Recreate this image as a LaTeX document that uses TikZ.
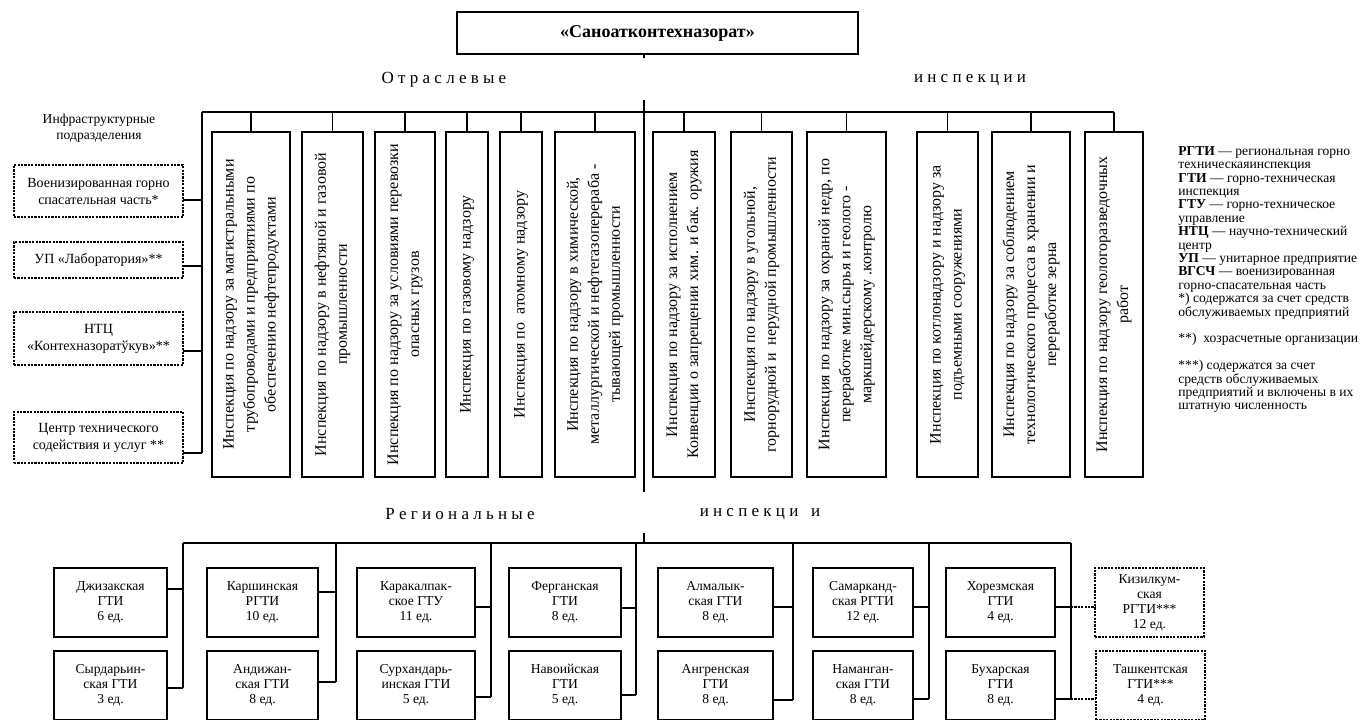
\documentclass[tikz,border=0pt]{standalone}
\usepackage{fontspec}
\setmainfont{Liberation Serif}
\begin{document}
\begin{tikzpicture}[x=0.5pt,y=-0.5pt,
    box/.style={draw,line width=0.9pt,inner sep=0pt,outer sep=0pt,align=center},
    vbox/.style={box,rotate=90,minimum width=172.5pt,font=\fontsize{8}{10.5}\selectfont},
    rbox/.style={box,minimum height=34.5pt,font=\fontsize{6.8}{7.5}\selectfont},
    dotbox/.style={draw,line width=1.4pt,dash pattern=on 1.1pt off 0.6pt,inner sep=0pt,outer sep=0pt,align=center},
    ibox/.style={dotbox,minimum width=84.5pt,font=\fontsize{7}{8.5}\selectfont},
    kbox/.style={dotbox,minimum width=54.5pt,minimum height=34.5pt,font=\fontsize{6.8}{7.5}\selectfont},
    link/.style={line width=0.8pt},
    dotlink/.style={line width=1.4pt,dash pattern=on 1.1pt off 0.6pt},
    lbl/.style={font=\fontsize{8.5}{10}\selectfont,inner sep=0pt}]
    \useasboundingbox (0,0) rectangle (1361,719);

    \node[box,minimum width=200.5pt,minimum height=21pt,font=\bfseries\fontsize{9}{11}\selectfont] (title) at (657.5,33) {«Саноатконтехназорат»};

    \node[lbl] (otrasl) at (444,80) {О т р а с л е в ы е};
    \node[lbl] (insp) at (970,80) {и н с п е к ц и и};
    \node[lbl] (region) at (460,514) {Р е г и о н а л ь н ы е};
    \node[lbl] (insp2) at (760,514) {и н с п е к ц и \ \ и};

    \node[vbox,minimum height=39pt] (pipe) at (251,304.5) {Инспекция по надзору за магистральными\\трубопроводами и предприятиями по\\обеспечению нефтепродуктами};
    \node[vbox,minimum height=30.5pt] (oilgas) at (332.5,304.5) {Инспекция по надзору в нефтяной и газовой\\промышленности};
    \node[vbox,minimum height=30pt] (cargo) at (405,304.5) {Инспекция по надзору за условиями перевозки\\опасных грузов};
    \node[vbox,minimum height=21pt] (gas) at (467,304.5) {Инспекция по газовому надзору};
    \node[vbox,minimum height=21pt] (atom) at (521,304.5) {Инспекция по\ \ атомному надзору};
    \node[vbox,minimum height=40pt] (chem) at (595,304.5) {Инспекция по надзору в химической,\\металлургической и нефтегазоперераба -\\тывающей промышленности};
    \node[vbox,minimum height=31pt] (weapon) at (684,304.5) {Инспекция по надзору за исполнением\\Конвенции о запрещении хим. и бак. оружия};
    \node[vbox,minimum height=30.5pt] (coal) at (761.5,304.5) {Инспекция по надзору в угольной,\\горнорудной и\ \ нерудной промышленности};
    \node[vbox,minimum height=39.5pt] (nedra) at (846.5,304.5) {Инспекция по надзору за охраной недр, по\\переработке мин.сырья и геолого -\\маркшейдерскому .контролю};
    \node[vbox,minimum height=30.5pt] (boiler) at (947.5,304.5) {Инспекция по котлонадзору и надзору за\\подъемными сооружениями};
    \node[vbox,minimum height=39pt] (grain) at (1031,304.5) {Инспекция по надзору за соблюдением\\технологического процесса в хранении и\\переработке зерна};
    \node[vbox,minimum height=29pt] (geo) at (1114,304.5) {Инспекция по надзору геологоразведочных\\работ};

    \node[font=\fontsize{6.8}{8}\selectfont,align=center,inner sep=0pt] (infra) at (99,128) {Инфраструктурные\\подразделения};
    \node[ibox,minimum height=26pt] (vgsch) at (98.5,191) {Военизированная горно\\спасательная часть*};
    \node[ibox,minimum height=18pt] (lab) at (98.5,260) {УП «Лаборатория»**};
    \node[ibox,minimum height=26.5pt] (ntc) at (98.5,338.5) {НТЦ\\«Контехназоратўкув»**};
    \node[ibox,minimum height=25.5pt] (center) at (98.5,437.5) {Центр технического\\содействия и услуг **};

    \node[rbox,minimum width=56.5pt] (jizzakh) at (110.5,602.5) {Джизакская\\ГТИ\\6 ед.};
    \node[rbox,minimum width=55.5pt] (karshi) at (262.5,602.5) {Каршинская\\РГТИ\\10 ед.};
    \node[rbox,minimum width=59pt] (karakalpak) at (416,602.5) {Каракалпак-\\ское ГТУ\\11 ед.};
    \node[rbox,minimum width=56pt] (fergana) at (565,602.5) {Ферганская\\ГТИ\\8 ед.};
    \node[rbox,minimum width=57.5pt] (almalyk) at (715.5,602.5) {Алмалык-\\ская ГТИ\\8 ед.};
    \node[rbox,minimum width=50pt] (samarkand) at (863,602.5) {Самарканд-\\ская РГТИ\\12 ед.};
    \node[rbox,minimum width=54.5pt] (khorezm) at (1000.5,602.5) {Хорезмская\\ГТИ\\4 ед.};
    \node[kbox] (kyzylkum) at (1149.5,602.5) {Кизилкум-\\ская\\РГТИ***\\12 ед.};

    \node[rbox,minimum width=56.5pt] (syrdarya) at (110.5,685.5) {Сырдарьин-\\ская ГТИ\\3 ед.};
    \node[rbox,minimum width=55.5pt] (andijan) at (262.5,685.5) {Андижан-\\ская ГТИ\\8 ед.};
    \node[rbox,minimum width=59pt] (surkhan) at (416,685.5) {Сурхандарь-\\инская ГТИ\\5 ед.};
    \node[rbox,minimum width=56pt] (navoi) at (565,685.5) {Навоийская\\ГТИ\\5 ед.};
    \node[rbox,minimum width=57.5pt] (angren) at (715.5,685.5) {Ангренская\\ГТИ\\8 ед.};
    \node[rbox,minimum width=50pt] (namangan) at (863,685.5) {Наманган-\\ская ГТИ\\8 ед.};
    \node[rbox,minimum width=54.5pt] (bukhara) at (1000.5,685.5) {Бухарская\\ГТИ\\8 ед.};
    \node[kbox] (tashkent) at (1150.5,685.5) {Ташкентская\\ГТИ***\\4 ед.};

    \node[anchor=north west,align=left,inner sep=0pt,font=\fontsize{6.8}{6.7}\selectfont] (legend) at (1178,146) {\textbf{РГТИ} — региональная горно\\
        техническаяинспекция\\
        \textbf{ГТИ} — горно-техническая\\
        инспекция\\
        \textbf{ГТУ} — горно-техническое\\
        управление\\
        \textbf{НТЦ} — научно-технический\\
        центр\\
        \textbf{УП} — унитарное предприятие\\
        \textbf{ВГСЧ} — военизированная\\
        горно-спасательная часть\\
        *) содержатся за счет средств\\
        обслуживаемых предприятий\\[6.7pt]
        **)\ \ хозрасчетные организации\\[6.7pt]
        ***) содержатся за счет\\
        средств обслуживаемых\\
        предприятий и включены в их\\
        штатную численность};

    \coordinate (top) at (644,100);
    \coordinate (tbus) at (644,112);
    \coordinate (low) at (644,492);
    \coordinate (rtop) at (644,533);
    \coordinate (rbus) at (644,543);
    \coordinate (ispine) at (202,112);

    \draw[link] (title.south -| top) -- ++(0,4);
    \draw[link] (top) -- (low);
    \draw[link] (ispine) -- (tbus -| geo.east);
    \foreach \n in {pipe,oilgas,cargo,gas,atom,chem,weapon,coal,nedra,boiler,grain,geo}
        \draw[link] (\n.east) -- (\n.east |- tbus);

    \draw[link] (ispine) -- (ispine |- 0,453);
    \foreach \n/\y in {vgsch/200,lab/266,ntc/351,center/453}
        \draw[link] (\n.east |- 0,\y) -- (ispine |- 0,\y);

    \draw[link] (rtop) -- (rbus);
    \draw[link] (rbus -| 183,0) -- (rbus -| 1071,0);
    \foreach \a/\b/\x/\ya/\yb in {jizzakh/syrdarya/183/589/688,karshi/andijan/336/592/682,karakalpak/surkhan/491/607/697,fergana/navoi/636/608/695,almalyk/angren/793/607/700,samarkand/namangan/929/607/699,khorezm/bukhara/1071/607/699}{
        \draw[link] (rbus -| \x,0) -- (\x,\yb);
        \draw[link] (\a.east |- 0,\ya) -- (\x,\ya);
        \draw[link] (\b.east |- 0,\yb) -- (\x,\yb);
    }
    \draw[dotlink] (1071,607) -- (kyzylkum.west |- 0,607);
    \draw[dotlink] (1071,699) -- (tashkent.west |- 0,699);
\end{tikzpicture}
\end{document}
